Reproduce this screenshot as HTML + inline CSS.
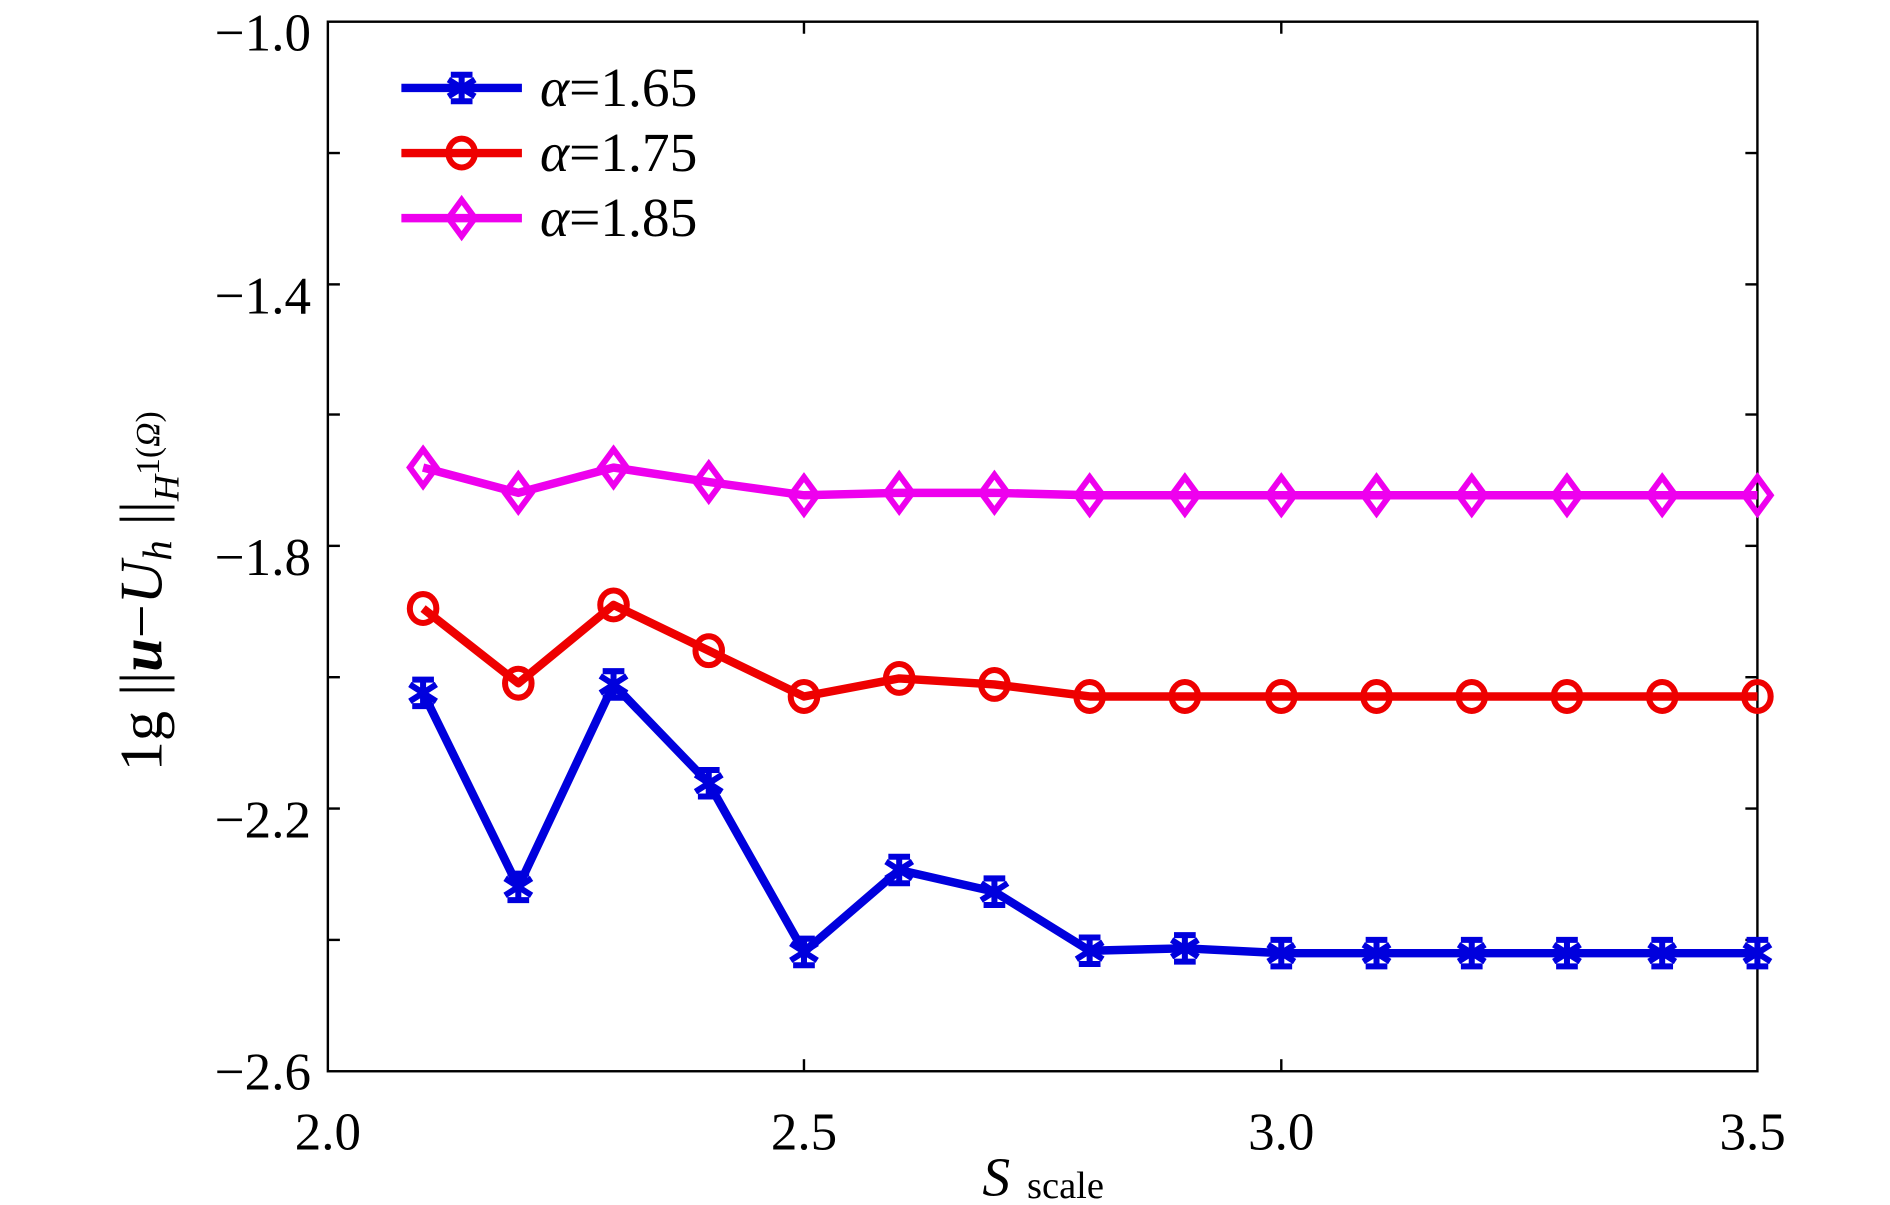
<!DOCTYPE html>
<html><head><style>html,body{margin:0;padding:0;background:#fff;}svg{display:block}svg text{font-family:"Liberation Serif","DejaVu Serif",serif}</style></head>
<body>
<svg width="1890" height="1205" viewBox="0 0 1568 1000" preserveAspectRatio="none" xmlns="http://www.w3.org/2000/svg">
<rect width="1568" height="1000" fill="#fff"/>
<rect x="272" y="18" width="1186" height="871" fill="none" stroke="#000" stroke-width="2"/>
<g stroke="#000" stroke-width="2">
<line x1="272" y1="127" x2="282" y2="127"/><line x1="272" y1="236" x2="282" y2="236"/><line x1="272" y1="344" x2="282" y2="344"/><line x1="272" y1="453" x2="282" y2="453"/><line x1="272" y1="562" x2="282" y2="562"/><line x1="272" y1="671" x2="282" y2="671"/><line x1="272" y1="780" x2="282" y2="780"/>
<line x1="1458" y1="127" x2="1448" y2="127"/><line x1="1458" y1="236" x2="1448" y2="236"/><line x1="1458" y1="344" x2="1448" y2="344"/><line x1="1458" y1="453" x2="1448" y2="453"/><line x1="1458" y1="562" x2="1448" y2="562"/><line x1="1458" y1="671" x2="1448" y2="671"/><line x1="1458" y1="780" x2="1448" y2="780"/>
<line x1="667" y1="889" x2="667" y2="879"/><line x1="1063" y1="889" x2="1063" y2="879"/>
<line x1="667" y1="18" x2="667" y2="28"/><line x1="1063" y1="18" x2="1063" y2="28"/>
</g>
<g font-size="44" text-anchor="end">
<text x="258" y="42">−1.0</text><text x="258" y="260">−1.4</text><text x="258" y="477">−1.8</text><text x="258" y="695">−2.2</text><text x="258" y="904">−2.6</text>
</g>
<g font-size="44" text-anchor="middle">
<text x="272" y="954">2.0</text><text x="667" y="954">2.5</text><text x="1063" y="954">3.0</text><text x="1454" y="954">3.5</text>
</g>
<text x="815" y="992" font-size="46" font-style="italic">S</text><text x="852" y="994" font-size="32">scale</text>
<g transform="translate(134,640) rotate(-90)">
<text x="0" y="0" font-size="50">1g ||<tspan font-style="italic" font-weight="bold">u</tspan>−<tspan font-style="italic">U</tspan><tspan font-style="italic" font-size="34" dy="8">h</tspan><tspan dy="-8"> ||</tspan><tspan font-size="30" dy="14" font-style="italic">H</tspan><tspan font-size="28" dy="-16">1(</tspan><tspan font-size="28" font-style="italic">Ω</tspan><tspan font-size="28">)</tspan></text>
</g>
<g fill="none" stroke-width="7" stroke-linejoin="round">
<polyline stroke="#ee00ee" points="351,388 430,409 509,388 588,400 667,411 746,409 825,409 904,411 983,411 1063,411 1142,411 1221,411 1300,411 1379,411 1458,411"/>
<polyline stroke="#ee0000" points="351,505 430,567 509,502 588,540 667,578 746,563 825,568 904,578 983,578 1063,578 1142,578 1221,578 1300,578 1379,578 1458,578"/>
<polyline stroke="#0000dd" points="351,575 430,736 509,568 588,650 667,790 746,722 825,740 904,789 983,787 1063,791 1142,791 1221,791 1300,791 1379,791 1458,791"/>
</g>
<g fill="none" stroke="#ee00ee" stroke-width="5">
<path d="M0,-15 L11,0 L0,15 L-11,0 Z" transform="translate(351,388)"/>
<path d="M0,-15 L11,0 L0,15 L-11,0 Z" transform="translate(430,409)"/><path d="M0,-15 L11,0 L0,15 L-11,0 Z" transform="translate(509,388)"/><path d="M0,-15 L11,0 L0,15 L-11,0 Z" transform="translate(588,400)"/><path d="M0,-15 L11,0 L0,15 L-11,0 Z" transform="translate(667,411)"/><path d="M0,-15 L11,0 L0,15 L-11,0 Z" transform="translate(746,409)"/><path d="M0,-15 L11,0 L0,15 L-11,0 Z" transform="translate(825,409)"/><path d="M0,-15 L11,0 L0,15 L-11,0 Z" transform="translate(904,411)"/><path d="M0,-15 L11,0 L0,15 L-11,0 Z" transform="translate(983,411)"/><path d="M0,-15 L11,0 L0,15 L-11,0 Z" transform="translate(1063,411)"/><path d="M0,-15 L11,0 L0,15 L-11,0 Z" transform="translate(1142,411)"/><path d="M0,-15 L11,0 L0,15 L-11,0 Z" transform="translate(1221,411)"/><path d="M0,-15 L11,0 L0,15 L-11,0 Z" transform="translate(1300,411)"/><path d="M0,-15 L11,0 L0,15 L-11,0 Z" transform="translate(1379,411)"/><path d="M0,-15 L11,0 L0,15 L-11,0 Z" transform="translate(1458,411)"/>
<path d="M0,-15 L11,0 L0,15 L-11,0 Z" transform="translate(383,181)"/>
</g>
<g fill="none" stroke="#ee0000" stroke-width="5">
<ellipse cx="351" cy="505" rx="11" ry="12"/><ellipse cx="430" cy="567" rx="11" ry="12"/><ellipse cx="509" cy="502" rx="11" ry="12"/><ellipse cx="588" cy="540" rx="11" ry="12"/><ellipse cx="667" cy="578" rx="11" ry="12"/><ellipse cx="746" cy="563" rx="11" ry="12"/><ellipse cx="825" cy="568" rx="11" ry="12"/><ellipse cx="904" cy="578" rx="11" ry="12"/><ellipse cx="983" cy="578" rx="11" ry="12"/><ellipse cx="1063" cy="578" rx="11" ry="12"/><ellipse cx="1142" cy="578" rx="11" ry="12"/><ellipse cx="1221" cy="578" rx="11" ry="12"/><ellipse cx="1300" cy="578" rx="11" ry="12"/><ellipse cx="1379" cy="578" rx="11" ry="12"/><ellipse cx="1458" cy="578" rx="11" ry="12"/>
<ellipse cx="383" cy="127" rx="11" ry="12"/>
</g>
<g stroke="#0000dd" stroke-width="5" fill="none" id="stars">
<path d="M0,-13V13M-11,-7L11,7M-11,7L11,-7M-9,-11H9M-9,11H9" transform="translate(351,575)"/>
<path d="M0,-13V13M-11,-7L11,7M-11,7L11,-7M-9,-11H9M-9,11H9" transform="translate(430,736)"/>
<path d="M0,-13V13M-11,-7L11,7M-11,7L11,-7M-9,-11H9M-9,11H9" transform="translate(509,568)"/>
<path d="M0,-13V13M-11,-7L11,7M-11,7L11,-7M-9,-11H9M-9,11H9" transform="translate(588,650)"/>
<path d="M0,-13V13M-11,-7L11,7M-11,7L11,-7M-9,-11H9M-9,11H9" transform="translate(667,790)"/>
<path d="M0,-13V13M-11,-7L11,7M-11,7L11,-7M-9,-11H9M-9,11H9" transform="translate(746,722)"/>
<path d="M0,-13V13M-11,-7L11,7M-11,7L11,-7M-9,-11H9M-9,11H9" transform="translate(825,740)"/>
<path d="M0,-13V13M-11,-7L11,7M-11,7L11,-7M-9,-11H9M-9,11H9" transform="translate(904,789)"/>
<path d="M0,-13V13M-11,-7L11,7M-11,7L11,-7M-9,-11H9M-9,11H9" transform="translate(983,787)"/>
<path d="M0,-13V13M-11,-7L11,7M-11,7L11,-7M-9,-11H9M-9,11H9" transform="translate(1063,791)"/>
<path d="M0,-13V13M-11,-7L11,7M-11,7L11,-7M-9,-11H9M-9,11H9" transform="translate(1142,791)"/>
<path d="M0,-13V13M-11,-7L11,7M-11,7L11,-7M-9,-11H9M-9,11H9" transform="translate(1221,791)"/>
<path d="M0,-13V13M-11,-7L11,7M-11,7L11,-7M-9,-11H9M-9,11H9" transform="translate(1300,791)"/>
<path d="M0,-13V13M-11,-7L11,7M-11,7L11,-7M-9,-11H9M-9,11H9" transform="translate(1379,791)"/>
<path d="M0,-13V13M-11,-7L11,7M-11,7L11,-7M-9,-11H9M-9,11H9" transform="translate(1458,791)"/>
<path d="M0,-13V13M-11,-7L11,7M-11,7L11,-7M-9,-11H9M-9,11H9" transform="translate(383,73)"/>
</g>
<g stroke-width="7">
<line x1="333" y1="73" x2="433" y2="73" stroke="#0000dd"/>
<line x1="333" y1="127" x2="433" y2="127" stroke="#ee0000"/>
<line x1="333" y1="181" x2="433" y2="181" stroke="#ee00ee"/>
</g>
<g font-size="46">
<text x="448" y="88"><tspan font-style="italic">α</tspan>=1.65</text>
<text x="448" y="142"><tspan font-style="italic">α</tspan>=1.75</text>
<text x="448" y="196"><tspan font-style="italic">α</tspan>=1.85</text>
</g>
</svg>
</body></html>
